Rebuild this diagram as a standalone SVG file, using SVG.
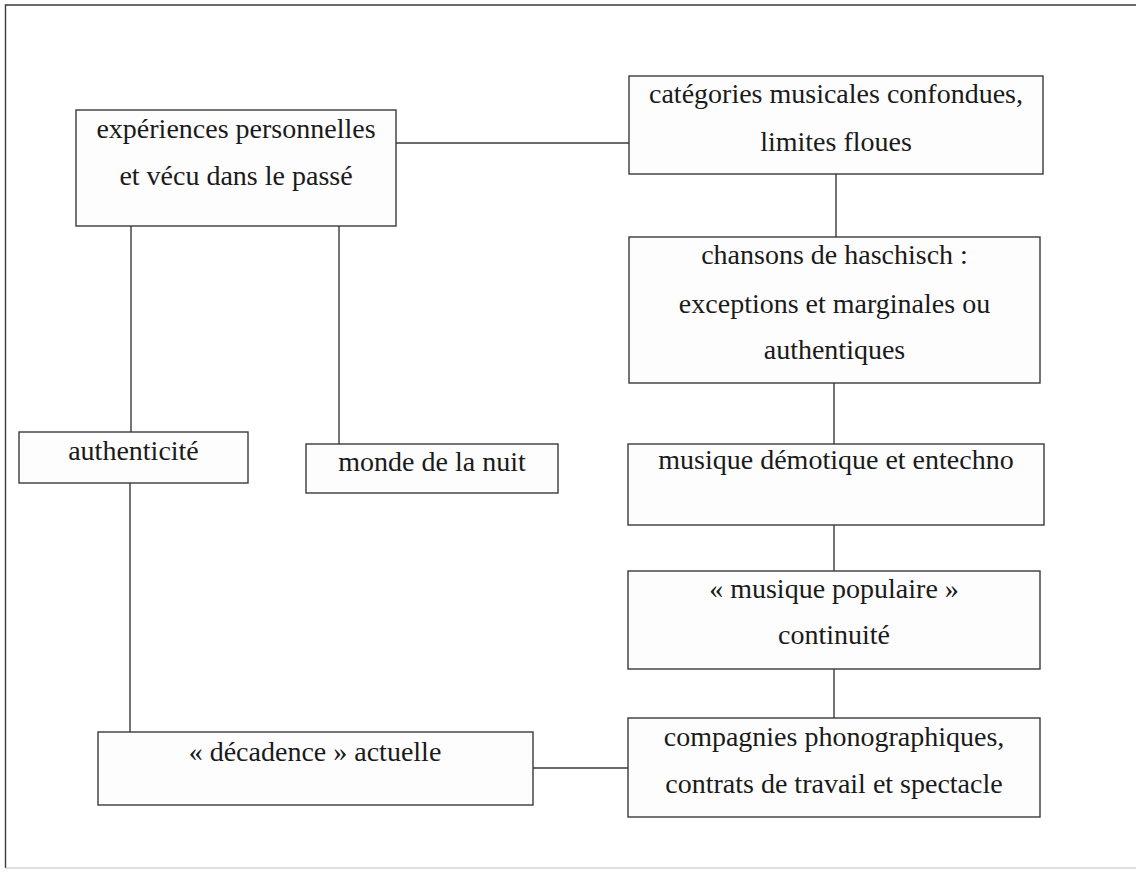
<svg xmlns="http://www.w3.org/2000/svg" width="1136" height="872" viewBox="0 0 1136 872">
<style>
  .box { fill: #fdfdfd; stroke: #3a3a3a; stroke-width: 1.4; }
  .lbl { font-family: "Liberation Serif", "Times New Roman", serif; font-size: 28px; fill: #1a1a1a; text-anchor: middle; }
  .conn line { stroke: #3a3a3a; stroke-width: 1.4; }
  .frame { fill: none; stroke: #3a3a3a; stroke-width: 1.4; }
</style>
<rect x="0" y="0" width="1136" height="872" fill="#ffffff"/>
<path class="frame" d="M1136,5 H5.5 V868"/>
<line x1="5.5" y1="868" x2="1136" y2="868" stroke="#bbbbbb" stroke-width="1"/>

<g id="connectors" class="conn">
  <line x1="396" y1="143" x2="629" y2="143"/>
  <line x1="131" y1="226" x2="131" y2="432"/>
  <line x1="130" y1="483" x2="130" y2="732"/>
  <line x1="339" y1="226" x2="339" y2="444"/>
  <line x1="836" y1="174" x2="836" y2="237"/>
  <line x1="834" y1="383" x2="834" y2="444"/>
  <line x1="834" y1="525" x2="834" y2="571"/>
  <line x1="834" y1="669" x2="834" y2="718"/>
  <line x1="533" y1="768" x2="628" y2="768"/>
</g>

<g id="n1">
  <rect class="box" x="76" y="110" width="320" height="116"/>
  <text class="lbl" x="236" y="138">expériences personnelles</text>
  <text class="lbl" x="236" y="185">et vécu dans le passé</text>
</g>
<g id="n2">
  <rect class="box" x="629" y="76" width="414" height="98"/>
  <text class="lbl" x="836" y="103">catégories musicales confondues,</text>
  <text class="lbl" x="836" y="151">limites floues</text>
</g>
<g id="n3">
  <rect class="box" x="629" y="237" width="411" height="146"/>
  <text class="lbl" x="834.5" y="264">chansons de haschisch :</text>
  <text class="lbl" x="834.5" y="313">exceptions et marginales ou</text>
  <text class="lbl" x="834.5" y="359">authentiques</text>
</g>
<g id="n4">
  <rect class="box" x="19" y="432" width="229" height="51"/>
  <text class="lbl" x="133.5" y="460">authenticité</text>
</g>
<g id="n5">
  <rect class="box" x="306" y="444" width="252" height="49"/>
  <text class="lbl" x="432" y="471">monde de la nuit</text>
</g>
<g id="n6">
  <rect class="box" x="628" y="444" width="416" height="81"/>
  <text class="lbl" x="836" y="469">musique démotique et entechno</text>
</g>
<g id="n7">
  <rect class="box" x="628" y="571" width="412" height="98"/>
  <text class="lbl" x="834" y="598">« musique populaire »</text>
  <text class="lbl" x="834" y="644">continuité</text>
</g>
<g id="n8">
  <rect class="box" x="628" y="718" width="412" height="99"/>
  <text class="lbl" x="834" y="746">compagnies phonographiques,</text>
  <text class="lbl" x="834" y="793">contrats de travail et spectacle</text>
</g>
<g id="n9">
  <rect class="box" x="98" y="732" width="435" height="73"/>
  <text class="lbl" x="315" y="761">« décadence » actuelle</text>
</g>
</svg>
